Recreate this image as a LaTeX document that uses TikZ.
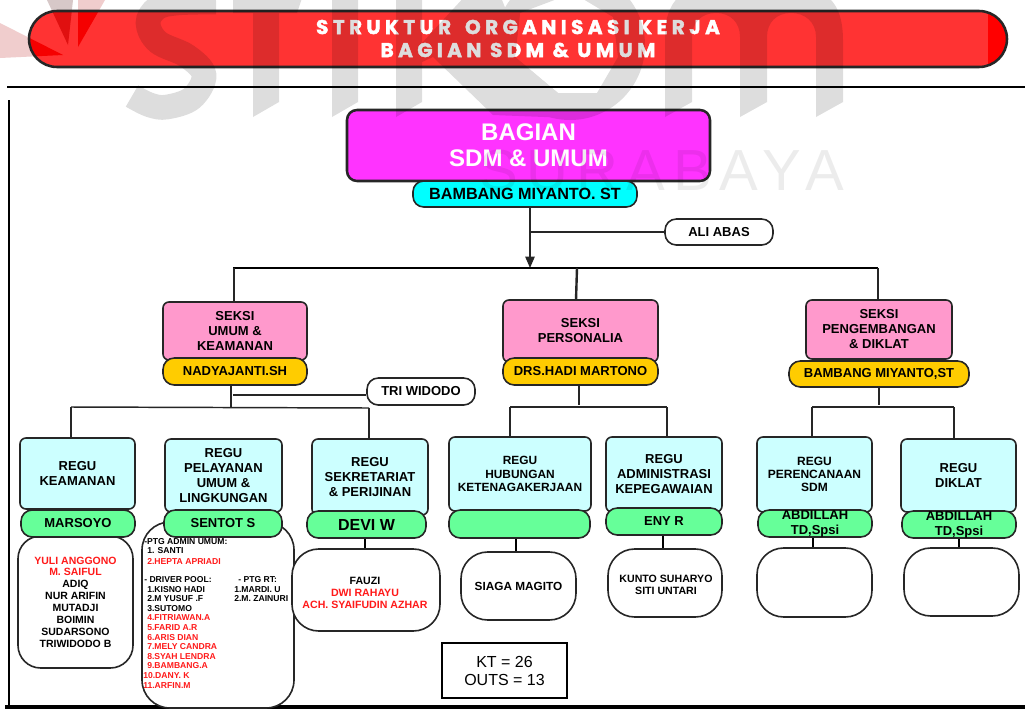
\documentclass[tikz,border=0pt]{standalone}
\usepackage{fontspec}
\usetikzlibrary{arrows.meta}
\setmainfont{Liberation Sans}
\newfontfamily\ttlfont[LetterSpace=22,BoldFeatures={FakeBold=2}]{Poppins}
\newfontfamily\wmfont[LetterSpace=14]{Liberation Sans}
\newcommand\fpx[2]{\fontsize{\dimexpr #1pt*3/4\relax}{\dimexpr #2pt*3/4\relax}\selectfont}
\newcommand\bx[7]{\node[#2,minimum width={(#5-#3)*0.75pt},minimum height={(#6-#4)*0.75pt},at={({(#3+#5)/2},{(#4+#6)/2})}] (#1) {#7};}
\newcommand\lst[5]{\node[listline,text=#4,at={(#2,#3)}] (#1) {#5};}
\definecolor{dk}{HTML}{262626}
\definecolor{redlist}{HTML}{FF1A1A}
\definecolor{seksi}{HTML}{FF99CC}
\definecolor{seksin}{HTML}{FFCC00}
\definecolor{regu}{HTML}{CCFFFF}
\definecolor{regun}{HTML}{66FF99}
\definecolor{headfill}{HTML}{FF33FF}
\definecolor{headnfill}{HTML}{00FFFF}
\definecolor{logopink}{HTML}{F0CDCD}
\definecolor{logopinkb}{HTML}{D7C8C8}
\definecolor{logored}{HTML}{F50000}
\definecolor{logodark}{HTML}{E01010}
\definecolor{bannerred}{HTML}{FF3333}
\tikzset{
  base/.style={draw=dk,line width=1.2pt,inner sep=0pt,align=center,text=black,font=\bfseries\fpx{13}{15}},
  headbox/.style={base,fill=headfill,line width=1.9pt,rounded corners=7.5pt,text=white,font=\bfseries\fpx{24}{26}},
  headname/.style={base,fill=headnfill,rounded corners=8pt,font=\bfseries\fpx{16.2}{18}},
  seksibox/.style={base,fill=seksi,rounded corners=4.5pt},
  seksiname/.style={base,fill=seksin,rounded corners=8.5pt},
  regubox/.style={base,fill=regu,rounded corners=4.5pt},
  regunamebox/.style={base,fill=regun,rounded corners=8.5pt},
  staffbox/.style={base,fill=white,rounded corners=20pt,font=\bfseries\fpx{10.6}{12}},
  staffinner/.style={inner sep=0pt,align=center,text=black,font=\bfseries\fpx{10.6}{12}},
  notebox/.style={base,fill=white,rounded corners=8.5pt},
  listline/.style={inner sep=0pt,anchor=west,font=\bfseries\fpx{8.6}{10}},
  link/.style={draw=dk,line width=1.1pt},
  linkthick/.style={draw=black,line width=2.2pt},
  rule/.style={draw=black,line width=1.6pt},
}
\begin{document}
\begin{tikzpicture}[x=0.75pt,y=-0.75pt]
\useasboundingbox (0,0) rectangle (1025,711);
\fill[white] (0,0) rectangle (1025,711);
% logo under the banner
\fill[logopink] (0,23) -- (63,55) -- (0,58) -- cycle;
\fill[logopinkb] (47,0) -- (68,45) -- (73,0) -- cycle;
\fill[logopink] (78,47) -- (105,0) -- (78,0) -- cycle;
% banner
\fill[bannerred,rounded corners=21pt] (29,11) rectangle (1007,67);
\begin{scope}
  \clip[rounded corners=21pt] (29,11) rectangle (1007,67);
  \fill[red] (988,11) rectangle (1007,67);
  \fill[logored] (0,23) -- (63,55) -- (0,58) -- cycle;
  \fill[logodark] (47,0) -- (68,45) -- (73,0) -- cycle;
  \fill[logored] (78,47) -- (105,0) -- (78,0) -- cycle;
\end{scope}
\bx{banner}{draw=dk,line width=1.9pt,rounded corners=21pt}{29}{11}{1007}{67}{}
\node[text=white,inner sep=0pt,font=\ttlfont\bfseries\fpx{20}{22}] (t1) at (518,27) {STRUKTUR\hspace{4pt} ORGANISASI KERJA};
\node[text=white,inner sep=0pt,font=\ttlfont\bfseries\fpx{20}{22}] (t2) at (518,50) {BAGIAN SDM \& UMUM};
% frame lines
\coordinate (r1a) at (7,87); \coordinate (r1b) at (1025,87);
\coordinate (r2a) at (9,100); \coordinate (r2b) at (9,706);
\coordinate (r3a) at (5,707); \coordinate (r3b) at (1025,707);
\draw[rule] (r1a) -- (r1b);
\draw[rule,line width=2pt] (r2a) -- (r2b);
\draw[rule,line width=2.4pt] (r3a) -- (r3b);
% head
\bx{head}{headbox}{347}{110}{710}{181}{BAGIAN\\SDM \& UMUM}
\bx{headn}{headname}{413}{181}{637}{207}{BAMBANG MIYANTO. ST}
\bx{ali}{notebox}{665}{219}{773}{245}{ALI ABAS}
% seksi
\bx{s1}{seksibox}{163}{302}{307}{360}{SEKSI\\UMUM \&\\KEAMANAN}
\bx{s1n}{seksiname}{163}{358}{307}{385}{NADYAJANTI.SH}
\bx{s2}{seksibox}{503}{300}{658}{362}{SEKSI\\PERSONALIA}
\bx{s2n}{seksiname}{503}{358}{658}{385}{DRS.HADI MARTONO}
\bx{s3}{seksibox}{806}{300}{952}{359}{SEKSI\\PENGEMBANGAN\\\& DIKLAT}
\bx{s3n}{seksiname}{789}{361}{969}{387}{BAMBANG MIYANTO,ST}
\bx{tri}{notebox}{367}{378}{475}{405}{TRI WIDODO}
% staff boxes
\bx{d1}{staffbox,rounded corners=17pt}{18}{536}{133}{668}{}
\bx{d2}{staffbox,rounded corners=21pt}{142}{522}{294}{708}{}
\bx{d3}{staffbox}{292}{549}{440}{631}{}
\bx{d4}{staffbox,font=\bfseries\fpx{11.8}{13}}{461}{552}{576}{620}{SIAGA MAGITO}
\bx{d5}{staffbox}{608}{549}{722}{617}{}
\bx{d6}{staffbox}{757}{548}{872}{617}{}
\bx{d7}{staffbox}{904}{548}{1019}{616}{}
\node[staffinner,font=\bfseries\fpx{10.5}{11.85},at={(75.5,602)}] (d1t) {\textcolor{redlist}{YULI ANGGONO}\\\textcolor{redlist}{M. SAIFUL}\\ADIQ\\NUR ARIFIN\\MUTADJI\\BOIMIN\\SUDARSONO\\TRIWIDODO B};
\node[staffinner,at={(365,592.5)}] (d3t) {FAUZI\\\textcolor{redlist}{DWI RAHAYU}\\\textcolor{redlist}{ACH. SYAIFUDIN AZHAR}};
\node[staffinner,at={(666,585)}] (d5t) {KUNTO SUHARYO\\SITI UNTARI};
% regu
\bx{r1}{regubox}{20}{438}{135}{509}{REGU\\KEAMANAN}
\bx{r1n}{regunamebox}{21}{510}{135}{537}{MARSOYO}
\bx{r2}{regubox}{165}{439}{282}{512}{REGU\\PELAYANAN\\UMUM \&\\LINGKUNGAN}
\bx{r2n}{regunamebox}{164}{510}{282}{537}{SENTOT S}
\bx{r3}{regubox}{312}{439}{428}{515}{REGU\\SEKRETARIAT\\\& PERIJINAN}
\bx{r3n}{regunamebox,font=\bfseries\fpx{16}{18}}{307}{511}{426}{538}{DEVI W}
\bx{r4}{regubox,font=\bfseries\fpx{11.9}{13.5}}{449}{437}{591}{511}{REGU\\HUBUNGAN\\KETENAGAKERJAAN}
\bx{r4n}{regunamebox}{449}{510}{590}{538}{}
\bx{r5}{regubox}{606}{437}{722}{512}{REGU\\ADMINISTRASI\\KEPEGAWAIAN}
\bx{r5n}{regunamebox}{606}{508}{722}{535}{ENY R}
\bx{r6}{regubox,font=\bfseries\fpx{12}{13}}{757}{437}{872}{512}{REGU\\PERENCANAAN\\SDM}
\bx{r6n}{regunamebox,font=\bfseries\fpx{13}{15}}{758}{510}{872}{537}{ABDILLAH\\TD,Spsi}
\bx{r7}{regubox}{901}{439}{1016}{512}{REGU\\DIKLAT}
\bx{r7n}{regunamebox,font=\bfseries\fpx{13}{15}}{902}{511}{1016}{538}{ABDILLAH\\TD,Spsi}
% long list
\lst{a1}{144}{542}{black}{-PTG ADMIN UMUM:}
\lst{a2}{147}{551}{black}{1. SANTI}
\lst{a3}{147}{561}{redlist}{2.HEPTA APRIADI}
\lst{a4}{144}{580}{black}{- DRIVER POOL:}
\lst{a5}{147}{590}{black}{1.KISNO HADI}
\lst{a6}{147}{599}{black}{2.M YUSUF .F}
\lst{a7}{147}{609}{black}{3.SUTOMO}
\lst{a8}{147}{618}{redlist}{4.FITRIAWAN.A}
\lst{a9}{147}{628}{redlist}{5.FARID A.R}
\lst{a10}{147}{638}{redlist}{6.ARIS DIAN}
\lst{a11}{147}{647}{redlist}{7.MELY CANDRA}
\lst{a12}{147}{657}{redlist}{8.SYAH LENDRA}
\lst{a13}{147}{666}{redlist}{9.BAMBANG.A}
\lst{a14}{143}{676}{redlist}{10.DANY. K}
\lst{a15}{143}{686}{redlist}{11.ARFIN.M}
\lst{b1}{238}{580}{black}{- PTG RT:}
\lst{b2}{234}{590}{black}{1.MARDI. U}
\lst{b3}{234}{599}{black}{2.M. ZAINURI}
% total box
\bx{kt}{draw=black,line width=2.2pt,fill=white,inner sep=0pt,align=center,font=\fpx{16}{18}}{442}{643}{567}{698}{KT = 26\\OUTS = 13}
% connectors
\coordinate (busL) at (233,268); \coordinate (busR) at (878,268);
\coordinate (busJ) at (530,268); \coordinate (busM) at (577,268);
\coordinate (aliJ) at (530,232);
\draw[link] (busJ |- headn.south) -- (aliJ);
\draw[link,-{Triangle[length=8.5pt,width=7pt]}] (aliJ) -- (busJ);
\draw[link] (aliJ) -- (aliJ -| ali.west);
\draw[linkthick] (busL) -- (busR);
\coordinate (busL1) at (234,268);
\draw[link,line width=1.8pt] (busL1) -- (busL1 |- s1.north);
\draw[link,line width=1.8pt] (busM) -- (576,300);
\draw[link,line width=1.8pt] (busR) -- (busR |- s3.north);
% section 1 links
\coordinate (c1) at (231,407); \coordinate (c1t) at (233,395);
\coordinate (b1l) at (71,407); \coordinate (b1r) at (369,408);
\draw[link] (c1 |- s1n.south) -- (c1);
\draw[link] (c1t) -- (c1t -| tri.west);
\draw[link] (b1l) -- (b1r);
\draw[link] (b1l) -- (b1l |- r1.north);
\draw[link] (b1r) -- (b1r |- r3.north);
% section 2 links
\coordinate (c2) at (579,405); \coordinate (b2l) at (510,407); \coordinate (b2r) at (667,407);
\draw[link] (c2 |- s2n.south) -- (c2);
\draw[link] (b2l) -- (b2r);
\draw[link] (b2l) -- (b2l |- r4.north);
\draw[link] (b2r) -- (b2r |- r5.north);
% section 3 links
\coordinate (c3) at (879,405); \coordinate (b3l) at (812,407); \coordinate (b3r) at (954,407);
\draw[link] (c3 |- s3n.south) -- (c3);
\draw[link] (b3l) -- (b3r);
\draw[link] (b3l) -- (b3l |- r6.north);
\draw[link] (b3r) -- (b3r |- r7.north);
% name to staff links
\coordinate (k3) at (365,540); \coordinate (k4) at (516,540);
\coordinate (k5) at (663,540); \coordinate (k6) at (813,540); \coordinate (k7) at (959,540);
\draw[linkthick] (k3 |- r3n.south) -- (k3 |- d3.north);
\draw[linkthick] (k4 |- r4n.south) -- (k4 |- d4.north);
\draw[linkthick] (k5 |- r5n.south) -- (k5 |- d5.north);
\draw[linkthick] (k6 |- r6n.south) -- (k6 |- d6.north);
\draw[linkthick] (k7 |- r7n.south) -- (k7 |- d7.north);
% watermark
\begin{scope}
\clip (0,0) rectangle (1025,711);
\begin{scope}[transparency group,opacity=.135]
  \draw[black,line width=18.5pt,line cap=butt] plot[smooth,tension=.6] coordinates {(216,2) (177,3) (157,8) (148,23) (158,42) (187,56) (204,75) (192,98) (167,107) (150,105) (132,96)};
  \fill[black] (233,-5) -- (303,-5) -- (297,13) -- (279,13) -- (279,102) -- (253,117) -- (253,13) -- (233,13) -- cycle;
  \fill[black] (332,-5) -- (358,-5) -- (358,102) -- (332,117) -- cycle;
  \fill[black] (396,-5) -- (422,-5) -- (422,43) -- (466,-5) -- (500,-5) -- (506,10) -- (520,13) -- (515,57) -- (558,93) -- (570,118) -- (493,115) -- (433,57) -- (422,62) -- (422,102) -- (396,117) -- cycle;
  \fill[black,even odd rule] (570,45) circle[radius=75] (558,93) -- (597,93) -- (618,57) -- (613,17) -- (573,-7) -- (520,13) -- (515,57) -- cycle;
  \fill[black] (665,117) -- (665,27) .. controls (668,10) and (674,-5) .. (690,-8) -- (815,-8) .. controls (835,-5) and (843,15) .. (843,40) -- (843,102) -- (816,117) -- (816,37) .. controls (816,22) and (805,13) .. (791,13) .. controls (777,13) and (767,22) .. (767,37) -- (767,102) -- (740,117) -- (740,37) .. controls (740,22) and (730,13) .. (716,13) .. controls (702,13) and (692,22) .. (692,37) -- (692,102) -- cycle;
\end{scope}
\node[anchor=east,inner sep=0pt,opacity=.075,text=black,font=\wmfont\fpx{58}{60}] (wm) at (844,171) {SURABAYA};
\end{scope}
\end{tikzpicture}
\end{document}
